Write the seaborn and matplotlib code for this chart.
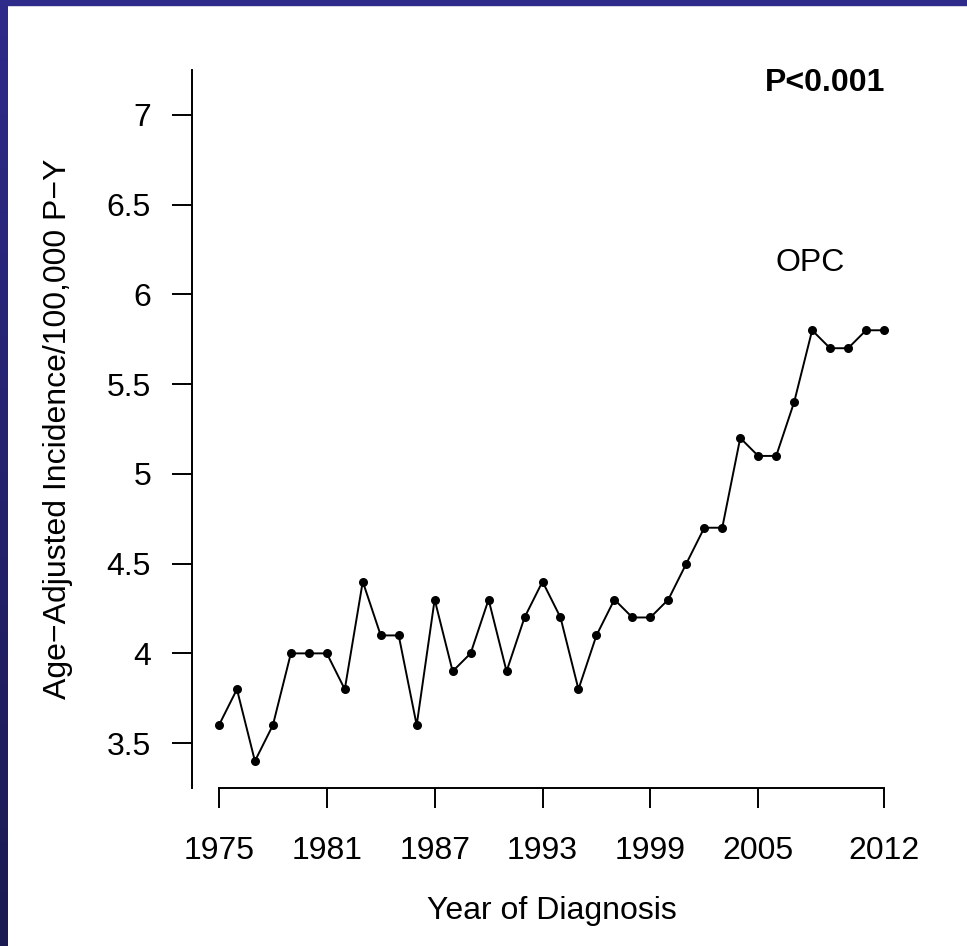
import numpy as np
import matplotlib
matplotlib.use("Agg")
import matplotlib.pyplot as plt
import seaborn as sns
import pandas as pd

years = list(range(1975, 2013))
incidence = [3.6, 3.8, 3.4, 3.6, 4.0, 4.0, 4.0, 3.8, 4.4, 4.1,
             4.1, 3.6, 4.3, 3.9, 4.0, 4.3, 3.9, 4.2, 4.4, 4.2,
             3.8, 4.1, 4.3, 4.2, 4.2, 4.3, 4.5, 4.7, 4.7, 5.2,
             5.1, 5.1, 5.4, 5.8, 5.7, 5.7, 5.8, 5.8]
xticks = [1975, 1981, 1987, 1993, 1999, 2005, 2012]
yticks = [3.5, 4, 4.5, 5, 5.5, 6, 6.5, 7]
ytick_labels = ["3.5", "4", "4.5", "5", "5.5", "6", "6.5", "7"]

df = pd.DataFrame({"year": years, "rate": incidence})

sns.set_style("ticks", {"text.color": "black", "axes.labelcolor": "black",
                        "xtick.color": "black", "ytick.color": "black"})
plt.rcParams['font.family'] = ['Liberation Sans', 'DejaVu Sans']

fig = plt.figure(figsize=(9.67, 9.46), dpi=100)
ax = fig.add_axes([192/967, 1-788/946, 719/967, 718/946])

sns.lineplot(data=df, x="year", y="rate", ax=ax, color="black", linewidth=1.4,
             marker="o", markersize=6.5, markeredgewidth=0)

ax.set_xlim(1973.5, 2013.5)
ax.set_ylim(3.25, 7.25)
ax.set_xticks(xticks)
ax.set_xticklabels([str(x) for x in xticks])
ax.set_yticks(yticks)
ax.set_yticklabels(ytick_labels)
ax.tick_params(axis="both", labelsize=23, length=14.5, width=1.4, color="black", labelcolor="black")
ax.tick_params(axis="x", pad=20)
ax.tick_params(axis="y", pad=15)
for side in ["top", "right"]:
    ax.spines[side].set_visible(False)
for side in ["left", "bottom"]:
    ax.spines[side].set_linewidth(1.4)
    ax.spines[side].set_color("black")
ax.spines["bottom"].set_bounds(1975, 2012)

ax.set_xlabel("Year of Diagnosis", fontsize=23, labelpad=22, color="black")
ax.set_ylabel("Age\u2212Adjusted Incidence/100,000 P\u2212Y", fontsize=23, labelpad=24, color="black")

ax.text(2012.05, 7.18, "P<0.001", fontsize=23, fontweight="bold", ha="right", va="center", color="black")
ax.text(2007.9, 6.175, "OPC", fontsize=23, ha="center", va="center", color="black")

# slide frame
grad = fig.add_axes([0, 0, 8/967, 1])
grad.imshow(np.linspace(0, 1, 256).reshape(-1, 1), aspect="auto",
            cmap=matplotlib.colors.LinearSegmentedColormap.from_list("fr", ["#2e2b8a", "#1c1a52"]))
grad.set_axis_off()
fig.patches.append(matplotlib.patches.Rectangle((0, 1-5/946), 1, 5/946, transform=fig.transFigure,
                                                color="#2e2b8a", zorder=10))

fig.savefig("out.png", dpi=100)
